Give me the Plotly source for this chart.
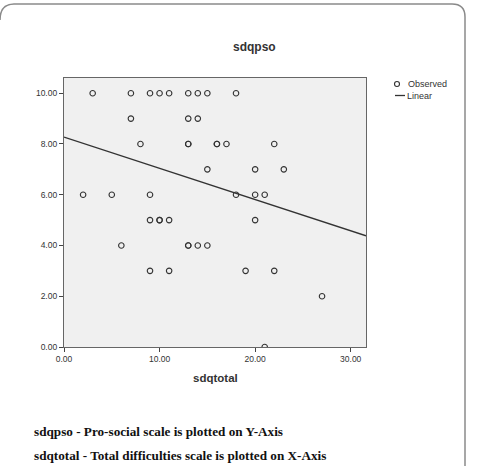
import plotly.graph_objects as go

# Observed data (sdqtotal, sdqpso)
sdqtotal = [3, 7, 9, 10, 11, 13, 14, 15, 18,
            7, 13, 14,
            8, 13, 13, 16, 16, 17, 22,
            15, 20, 23,
            2, 5, 9, 18, 20, 21,
            9, 10, 10, 11, 20,
            6, 13, 13, 14, 15,
            9, 11, 19, 22,
            27,
            21]
sdqpso = [10, 10, 10, 10, 10, 10, 10, 10, 10,
          9, 9, 9,
          8, 8, 8, 8, 8, 8, 8,
          7, 7, 7,
          6, 6, 6, 6, 6, 6,
          5, 5, 5, 5, 5,
          4, 4, 4, 4, 4,
          3, 3, 3, 3,
          2,
          0]

# Linear fit
fit_x = [0.0, 31.6]
fit_intercept = 8.27
fit_slope = -0.123
fit_y = [fit_intercept + fit_slope * v for v in fit_x]

x_ticks = [0, 10, 20, 30]
y_ticks = [0, 2, 4, 6, 8, 10]

W, H = 478, 466
L, R, T, B = 64, 366, 78, 347


def px2x(px):
    return (px - L) / (R - L)


def py2y(py):
    return (B - py) / (B - T)


fig = go.Figure()
fig.add_trace(go.Scatter(
    x=sdqtotal, y=sdqpso, mode="markers", name="Observed",
    marker=dict(symbol="circle-open", size=5.5, color="#333333",
                line=dict(width=1.1, color="#333333")),
))
fig.add_trace(go.Scatter(
    x=fit_x, y=fit_y, mode="lines", name="Linear",
    line=dict(color="#333333", width=1.3),
))

axis_common = dict(
    showgrid=False, zeroline=False, showline=True, mirror=True,
    linecolor="#666666", linewidth=1.2, ticks="outside", ticklen=4,
    tickcolor="#444444", tickfont=dict(family="Arial", size=8.5, color="#333333"),
)

fig.update_layout(
    width=W, height=H,
    margin=dict(l=L, r=W - R, t=T, b=H - B),
    paper_bgcolor="white", plot_bgcolor="#f0f0f0",
    showlegend=False,
    xaxis=dict(range=[0, 31.6], tickvals=x_ticks,
               ticktext=[f"{v:.2f}" for v in x_ticks], **axis_common),
    yaxis=dict(range=[0, 10.6], tickvals=y_ticks,
               ticktext=[f"{v:.2f}" for v in y_ticks], **axis_common),
)


def ann(text, px, py, size, family="Arial", color="#333333", xanchor="center"):
    return dict(text=text, x=px2x(px), y=py2y(py), xref="paper", yref="paper",
                xanchor=xanchor, yanchor="middle", showarrow=False,
                font=dict(family=family, size=size, color=color))


annotations = [
    ann("<b>sdqpso</b>", 254, 47, 12),
    ann("<b>sdqtotal</b>", 215, 378, 11.5),
    ann("<b>sdqpso - Pro-social scale is plotted on Y-Axis</b>", 32, 431, 13.2,
        family="Liberation Serif", color="#111111", xanchor="left"),
    ann("<b>sdqtotal - Total difficulties scale is plotted on X-Axis</b>", 32, 456, 13.2,
        family="Liberation Serif", color="#111111", xanchor="left"),
    # legend labels
    ann("Observed", 406, 84, 9, xanchor="left"),
    ann("Linear", 405, 96, 9, xanchor="left"),
]
fig.update_layout(annotations=annotations)

# legend glyphs
fig.add_shape(type="circle", xref="paper", yref="paper",
              x0=px2x(394.5), x1=px2x(399.5), y0=py2y(86.5), y1=py2y(81.5),
              line=dict(color="#333333", width=1.1))
fig.add_shape(type="line", xref="paper", yref="paper",
              x0=px2x(395), x1=px2x(405), y0=py2y(95.5), y1=py2y(95.5),
              line=dict(color="#333333", width=1.3))

# Outer rounded frame (top and right edges visible)
path = (f"M {px2x(0)},{py2y(20)} Q {px2x(0)},{py2y(4)} {px2x(14)},{py2y(4)} "
        f"L {px2x(452)},{py2y(4)} Q {px2x(465)},{py2y(4)} {px2x(465)},{py2y(17)} "
        f"L {px2x(465)},{py2y(470)}")
fig.add_shape(type="path", path=path, xref="paper", yref="paper",
              line=dict(color="#8a8a8a", width=1.5), layer="above")

fig.write_html("out.html")
